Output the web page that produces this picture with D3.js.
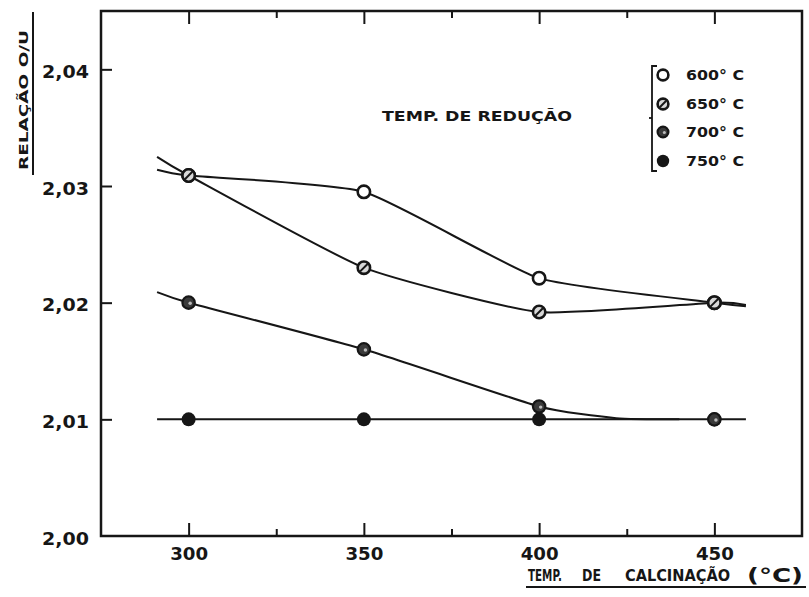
<!DOCTYPE html>
<html>
<head>
<meta charset="utf-8">
<script src="https://cdn.jsdelivr.net/npm/d3@7"></script>
<style>
  html, body { margin: 0; padding: 0; background: #fff; }
  svg { display: block; }
  text { font-family: "DejaVu Sans", "Liberation Sans", sans-serif; font-weight: bold; fill: #161616; }
</style>
</head>
<body>
<svg id="chart" width="809" height="597"></svg>
<script>
// Calcination temperatures (°C) where measurements were taken
const temps = [300, 350, 400, 450];

// O/U ratio for each reduction temperature
const r600 = [2.0309, 2.0295, 2.0221, 2.0200];
const r650 = [2.0309, 2.0230, 2.0192, 2.0200];
const r700 = [2.0200, 2.0160, 2.0111, 2.0100];
const r750 = [2.0100, 2.0100, 2.0100, 2.0100];

// Hand-faired curves, including the short run-outs beyond the end points
const c600x = [291, 300, 350, 400, 450, 459];
const c600y = [2.0314, 2.0309, 2.0295, 2.0221, 2.0200, 2.0197];
const c650x = [291, 300, 350, 400, 450, 459];
const c650y = [2.0325, 2.0309, 2.0230, 2.0192, 2.0200, 2.0198];
const c700x = [291, 300, 350, 400, 422, 440];
const c700y = [2.0209, 2.0200, 2.0160, 2.0111, 2.0101, 2.0100];
const c750x = [291, 459];
const c750y = [2.0100, 2.0100];

// Axis ticks and labels
const xMajor = [300, 350, 400, 450];
const xMinor = [325, 375, 425];
const yTicks = [2.00, 2.01, 2.02, 2.03, 2.04];
const legendLabels = ["600° C", "650° C", "700° C", "750° C"];
const title = "TEMP. DE REDUÇÃO";
const yTitle = "RELAÇÃO  O/U";
const xTitleWords = ["TEMP.", "DE", "CALCINAÇÃO", "(°C)"];

const ink = "#161616";
const svg = d3.select("#chart");

const x = d3.scaleLinear().domain([275, 475]).range([101, 802]);
const y = d3.scaleLinear().domain([2.00, 2.045]).range([536, 11]);

const fmt = d => d3.format(".2f")(d).replace(".", ",");

// Frame
svg.append("rect")
  .attr("x", x(275)).attr("y", y(2.045))
  .attr("width", x(475) - x(275)).attr("height", y(2.00) - y(2.045))
  .attr("fill", "none").attr("stroke", ink).attr("stroke-width", 2.5);

function styleAxis(g) {
  g.select(".domain").remove();
  g.selectAll(".tick line").attr("stroke", ink).attr("stroke-width", 2);
  g.selectAll(".tick text").attr("fill", ink)
    .style("font-family", '"DejaVu Sans", sans-serif').style("font-weight", "bold");
}

// Left axis (ticks inward)
svg.append("g").attr("transform", `translate(${x(275)},0)`)
  .call(d3.axisLeft(y).tickValues(yTicks).tickSize(-11).tickPadding(12).tickFormat(fmt))
  .call(styleAxis)
  .call(g => g.selectAll(".tick text").style("font-size", "18px")
    .attr("dy", "0.45em").attr("textLength", 47).attr("lengthAdjust", "spacingAndGlyphs"))
  .call(g => g.selectAll(".tick").filter(d => d === 2.00).select("line").remove());

// Bottom axis: major ticks with labels, minor ticks
svg.append("g").attr("transform", `translate(0,${y(2.00)})`)
  .call(d3.axisBottom(x).tickValues(xMajor).tickSize(-13).tickPadding(11).tickFormat(d3.format("d")))
  .call(styleAxis)
  .call(g => g.selectAll(".tick text").style("font-size", "18px")
    .attr("textLength", 38).attr("lengthAdjust", "spacingAndGlyphs"));
svg.append("g").attr("transform", `translate(0,${y(2.00)})`)
  .call(d3.axisBottom(x).tickValues(xMinor).tickSize(-7).tickFormat(""))
  .call(styleAxis);

// Top axis: ticks pointing down
svg.append("g").attr("transform", `translate(0,${y(2.045)})`)
  .call(d3.axisTop(x).tickValues(xMajor).tickSize(-13).tickFormat(""))
  .call(styleAxis);
svg.append("g").attr("transform", `translate(0,${y(2.045)})`)
  .call(d3.axisTop(x).tickValues(xMinor).tickSize(-7).tickFormat(""))
  .call(styleAxis);

// Curves
const line = d3.line().x(d => x(d[0])).y(d => y(d[1])).curve(d3.curveCardinal.tension(0.5));
const curves = [[c600x, c600y], [c650x, c650y], [c700x, c700y], [c750x, c750y]];
svg.append("g").selectAll("path").data(curves).join("path")
  .attr("d", c => line(d3.zip(c[0], c[1])))
  .attr("fill", "none").attr("stroke", ink).attr("stroke-width", 2);

// Marker symbols: open, slashed, dark with highlight, solid
function marker(g, kind, cx, cy, r) {
  const s = g.append("g").attr("transform", `translate(${cx},${cy})`);
  if (kind === 0) {
    s.append("circle").attr("r", r).attr("fill", "#fff").attr("stroke", ink).attr("stroke-width", 2.6);
  } else if (kind === 1) {
    s.append("circle").attr("r", r).attr("fill", "#d8d8d8").attr("stroke", ink).attr("stroke-width", 2.6);
    s.append("line").attr("x1", -r * 0.6).attr("y1", r * 0.6).attr("x2", r * 0.6).attr("y2", -r * 0.6)
      .attr("stroke", ink).attr("stroke-width", 2);
  } else if (kind === 2) {
    s.append("circle").attr("r", r).attr("fill", "#3a3a3a").attr("stroke", ink).attr("stroke-width", 2.2);
    s.append("circle").attr("cx", r * 0.25).attr("cy", r * 0.1).attr("r", r * 0.28).attr("fill", "#bbb");
  } else {
    s.append("circle").attr("r", r + 0.8).attr("fill", ink);
  }
}

const series = [r600, r650, r700, r750];
const drawOrder = [3, 2, 0, 1];
const gm = svg.append("g");
drawOrder.forEach(k => {
  series[k].forEach((v, i) => marker(gm, k, x(temps[i]), y(v), 6.2));
});

// Legend
const lg = svg.append("g");
lg.append("path")
  .attr("d", "M657,66 L652,66 L652,171 L657,171")
  .attr("fill", "none").attr("stroke", ink).attr("stroke-width", 1.8);
lg.append("line").attr("x1", 649).attr("x2", 652).attr("y1", 118).attr("y2", 118)
  .attr("stroke", ink).attr("stroke-width", 1.8);
const legendY = [75, 104, 132, 161];
legendLabels.forEach((t, i) => {
  marker(lg, i, 663, legendY[i], 5.4);
  lg.append("text").attr("x", 686).attr("y", legendY[i]).attr("dy", "0.36em")
    .style("font-size", "14px").attr("textLength", 58).attr("lengthAdjust", "spacingAndGlyphs")
    .text(t);
});

// Inner title
svg.append("text").attr("x", 382).attr("y", 116).attr("dy", "0.36em")
  .style("font-size", "14px").attr("textLength", 190).attr("lengthAdjust", "spacingAndGlyphs")
  .text(title);

// Y axis title, rotated and underlined
const yt = svg.append("g").attr("transform", "translate(23,100) rotate(-90)");
yt.append("text").attr("text-anchor", "middle").attr("dy", "0.36em")
  .style("font-size", "13px").attr("textLength", 140).attr("lengthAdjust", "spacingAndGlyphs")
  .text(yTitle);
yt.append("line").attr("x1", -75).attr("x2", 88).attr("y1", 10).attr("y2", 10)
  .attr("stroke", ink).attr("stroke-width", 2);

// X axis title, underlined
const xWordX = [528, 582, 625, 747];
const xWordW = [34, 19, 105, 56];
const xWordSize = [16, 16, 16, 19];
const xt = svg.append("g");
xTitleWords.forEach((w, i) => {
  xt.append("text").attr("x", xWordX[i]).attr("y", 575).attr("dy", "0.36em")
    .style("font-size", xWordSize[i] + "px").attr("textLength", xWordW[i]).attr("lengthAdjust", "spacingAndGlyphs")
    .text(w);
});
xt.append("line").attr("x1", 526).attr("x2", 806).attr("y1", 587).attr("y2", 587)
  .attr("stroke", ink).attr("stroke-width", 2);
</script>
</body>
</html>
